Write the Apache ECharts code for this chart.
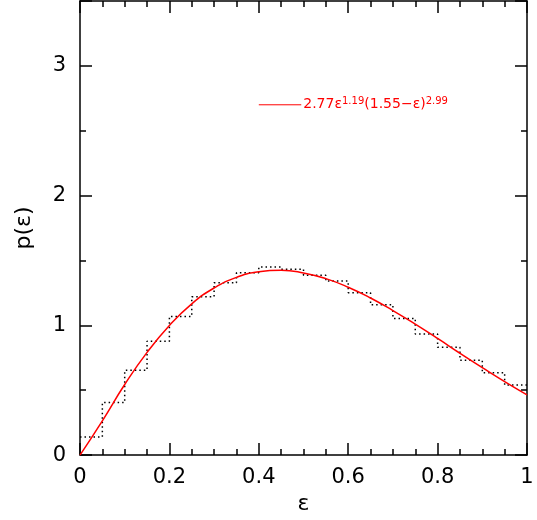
<!DOCTYPE html>
<html><head><meta charset="utf-8">
<script src="https://cdn.jsdelivr.net/npm/echarts@6/dist/echarts.min.js"></script>
<style>html,body{margin:0;background:#fff}#box{width:537px;height:520px}</style>
</head><body><div id="box"></div>
<script>
var binWidth = 0.05;
var histValues = [0.14, 0.405, 0.654, 0.878, 1.069, 1.221, 1.328, 1.405, 1.45, 1.433,
	1.387, 1.341, 1.252, 1.158, 1.053, 0.934, 0.832, 0.731, 0.634, 0.54];
var fitX = [0, 0.05, 0.1, 0.15, 0.2, 0.25, 0.3, 0.35, 0.4, 0.45, 0.5,
	0.55, 0.6, 0.65, 0.7, 0.75, 0.8, 0.85, 0.9, 0.95, 1.0];
var fitY = [0, 0.264, 0.544, 0.792, 0.999, 1.166, 1.288, 1.370, 1.414, 1.425, 1.404,
	1.360, 1.294, 1.211, 1.114, 1.009, 0.899, 0.785, 0.674, 0.566, 0.464];

var steps = [];
for (var i = 0; i < histValues.length; i++) {
	steps.push([i * binWidth, histValues[i]]);
	steps.push([(i + 1) * binWidth, histValues[i]]);
}
var fit = fitX.map(function (x, i) { return [x, fitY[i]]; });

var myChart = echarts.init(document.getElementById("box"));
var font = "DejaVu Sans";
function axisBase(extra) {
	var a = {
		axisLine: { onZero: false, lineStyle: { color: '#000', width: 1.5 } },
		axisTick: { inside: true, length: 12, lineStyle: { color: '#000', width: 1.5 } },
		minorTick: { show: true, length: 6, lineStyle: { color: '#000', width: 1.5 } },
		splitLine: { show: false },
		axisLabel: { color: '#000', fontSize: 20, fontFamily: font }
	};
	for (var k in extra) a[k] = extra[k];
	return a;
}
var labelStyle = { color: '#000', fontSize: 21, fontFamily: font, fontWeight: 500 };
var option = {
	animation: false,
	grid: { left: 80, right: 10, top: 1, bottom: 63 },
	xAxis: [
		axisBase({ type: 'value', min: 0, max: 1, interval: 0.2, minorTick: { show: true, splitNumber: 4, length: 6, lineStyle: { color: '#000', width: 1.5 } },
			name: 'ε', nameLocation: 'middle', nameGap: 34, nameTextStyle: { color: '#000', fontSize: 22, fontFamily: font },
			axisLabel: Object.assign({ margin: 12, formatter: function (v) { return v === 0 || v === 1 ? String(v) : v.toFixed(1); } }, labelStyle) }),
		axisBase({ type: 'value', position: 'top', min: 0, max: 1, interval: 0.2, minorTick: { show: true, splitNumber: 4, length: 6, lineStyle: { color: '#000', width: 1.5 } }, axisLabel: { show: false } })
	],
	yAxis: [
		axisBase({ type: 'value', min: 0, max: 3.5, interval: 1, minorTick: { show: true, splitNumber: 2, length: 6, lineStyle: { color: '#000', width: 1.5 } },
			name: 'p(ε)', nameLocation: 'middle', nameGap: 45, nameTextStyle: { color: '#000', fontSize: 22, fontFamily: font },
			axisLabel: Object.assign({ margin: 14, showMaxLabel: false }, labelStyle) }),
		axisBase({ type: 'value', position: 'right', min: 0, max: 3.5, interval: 1, minorTick: { show: true, splitNumber: 2, length: 6, lineStyle: { color: '#000', width: 1.5 } }, axisLabel: { show: false } })
	],
	series: [
		{ type: 'line', data: steps, symbol: 'none', lineStyle: { color: '#000', width: 1.5, type: [1.5, 3] } },
		{ type: 'line', data: fit, smooth: true, symbol: 'none', lineStyle: { color: '#f00', width: 1.5 } },
		{ type: 'line', data: [[0.4, 2.7], [0.495, 2.7]], symbol: 'none', lineStyle: { color: '#f00', width: 1 },
			endLabel: { show: true, distance: 2, color: '#f00', fontFamily: font, fontSize: 14,
				formatter: '{a|2.77ε}{s|1.19}{a|(1.55−ε)}{s|2.99}',
				rich: { a: { color: '#f00', fontSize: 14, fontFamily: font }, s: { color: '#f00', fontSize: 10, fontFamily: font, verticalAlign: 'top', padding: [0, 0, 6, 0] } } } }
	]
};
myChart.setOption(option);
</script></body></html>
